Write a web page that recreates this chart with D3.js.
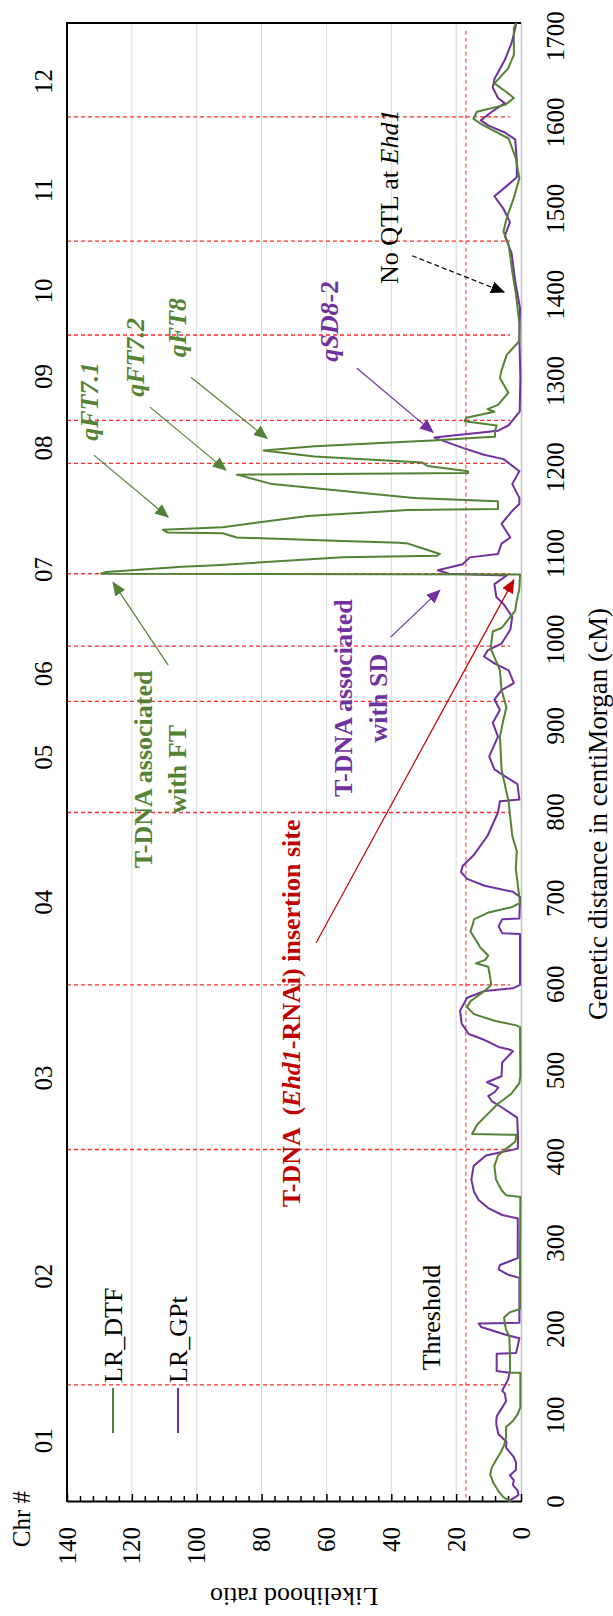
<!DOCTYPE html>
<html>
<head>
<meta charset="utf-8">
<script src="https://cdn.jsdelivr.net/npm/d3@7"></script>
<style>
body { margin: 0; background: #fff; }
svg { display: block; }
text { font-family: "Liberation Serif", "Times New Roman", serif; fill: #000; }
</style>
</head>
<body>
<svg id="chart" width="613" height="1616"></svg>
<script>
'use strict';

// chromosomes
const chrNames = ['01', '02', '03', '04', '05', '06', '07', '08', '09', '10', '11', '12'];
const chrLabelCM = [71, 262, 492, 696, 864, 961, 1082, 1223, 1306, 1405, 1522, 1648];
const chrBoundaryCM = [136, 409, 600, 800, 929, 993, 1077, 1205, 1255, 1354, 1463, 1607];
const thresholdLR = 17;

// axis ticks
const cmTicks = d3.range(0, 1701, 100);
const lrTicks = d3.range(0, 141, 20);
const lrMinorTicks = d3.range(0, 141, 4).filter(d => d % 20 !== 0);

// LR_DTF (days to flowering)
const dtfCM = [0, 6, 13, 22, 32, 40, 50, 58, 66, 75, 87, 94, 102, 110, 150, 150, 172, 192, 200, 207, 214, 220, 224, 300, 354,
    356, 362, 374, 390, 402, 410, 418, 426, 427, 438, 450, 462, 474, 486, 494, 551, 553, 558, 566, 574, 581, 593, 600,
    611, 621, 625, 629, 634, 643, 649, 662, 671, 676, 684, 690, 695, 735, 755, 773, 812, 850, 888, 908, 922, 942, 965,
    990, 996, 1010, 1014, 1034, 1042, 1060, 1076, 1077, 1079, 1085, 1087, 1096, 1098, 1100, 1106, 1112, 1113, 1115,
    1119, 1124, 1125, 1128, 1131, 1144, 1151, 1152, 1161, 1165, 1181, 1192, 1194, 1196, 1202, 1206, 1213, 1220, 1225,
    1232, 1235, 1236, 1243, 1249, 1254, 1258, 1265, 1268, 1273, 1287, 1304, 1313, 1331, 1347, 1366, 1400, 1428, 1459,
    1474, 1490, 1513, 1536, 1559, 1582, 1598, 1605, 1613, 1621, 1629, 1636, 1646, 1663, 1679, 1710, 1716];
const dtfLR = [3.2, 5.5, 7, 8.5, 9.5, 9, 7.5, 6.2, 5.2, 4.6, 4.6, 2.5, 1, 0.2, 0.2, 3.4, 3.4, 3.6, 4.6, 5, 5.2, 3.5, 0.3, 0.3, 0.2,
    4.6, 6, 7.7, 8.2, 7.1, 4.5, 1.8, 1.3, 15.1, 13.5, 10.3, 7.1, 2.9, 0.5, 0.2, 0.3, 1.4, 7.9, 14.5, 16.6, 15.6, 11.2, 9.2,
    9.6, 10.1, 13.9, 11, 10.1, 12.5, 13.4, 15.6, 14.8, 14.5, 10, 3, 0.3, 1.6, 1.3, 2.7, 3.8, 6, 6.5, 5.4, 4.5, 6, 6.5,
    9.3, 9.2, 8.7, 6, 1.8, 1.5, 0.5, 0.3, 129.5, 127.9, 104.5, 94, 55, 26, 25, 30, 34.8, 37.5, 55,
    87.6, 92, 109, 110.4, 92, 65.8, 34.8, 7.1, 7.1, 33, 76.7, 87.6, 16.3, 16.3, 28.8, 30.5, 63.7, 79.4, 63.7,
    26, 12.5, 8, 8, 7.5, 17.4, 16.9, 8.2, 10.3, 7.1, 3.9, 6.5, 6, 4.4, 0.5, 0.5, 1.5, 2.7, 3.8,
    5.4, 4.4, 2.2, 0.5, 1.6, 3.8, 12, 14.7, 13.6, 4.9, 2.2, 4.5, 8.2, 4, 2.2, 2.2, 1.5];

// LR_GPt (grain production)
const gptCM = [0, 2, 8, 13, 20, 25, 31, 37, 45, 52, 63, 70, 79, 90, 96, 100, 106, 117, 126, 129, 142, 150, 152, 172, 173,
    190, 194, 203, 207, 208, 260, 264, 270, 275, 283, 329, 333, 341, 350, 360, 374, 390, 402, 410, 423, 446, 458, 465,
    471, 476, 481, 487, 494, 510, 523, 525, 528, 536, 543, 555, 570, 585, 593, 596, 600, 659, 660, 668, 676, 677, 702,
    708, 715, 723, 731, 738, 750, 773, 800, 813, 815, 833, 842, 850, 865, 888, 904, 919, 931, 942, 950, 965, 973, 981,
    988, 996, 1012, 1027, 1042, 1050, 1065, 1075, 1077, 1081, 1083, 1088, 1096, 1100, 1112, 1119, 1135, 1150, 1158,
    1165, 1181, 1196, 1210, 1215, 1223, 1235, 1243, 1249, 1265, 1305, 1353, 1385, 1417, 1449, 1469, 1485, 1501, 1515,
    1525, 1537, 1557, 1581, 1589, 1597, 1603, 1613, 1623, 1629, 1641, 1651, 1673, 1693, 1709, 1716];
const gptLR = [3.2, 3.4, 0.8, 1, 2.5, 2.2, 3.4, 1.6, 1.5, 2.2, 4.6, 4.5, 7, 7.6, 7.6, 7.4, 6.4, 4.6, 5, 5.8, 4, 3.5, 7.5, 7.5, 1.5,
    0.5, 4.7, 12.3, 13, 0.5, 0.5, 4.2, 6.9, 6.5, 1, 1, 5.8, 10.1, 13, 14.5, 15.3, 14.6, 10.8, 1, 0.9, 1.2, 6, 9,
    10.1, 8, 7, 10.5, 6, 5.8, 2.5, 3.6, 6.9, 11.2, 16.1, 18.3, 18.8, 16.6, 11.2, 2.5, 0.3, 0.3, 5.8, 6.9, 5.8, 0.5, 0.3,
    2.5, 11.2, 16.6, 18.5, 18, 14.7, 10.3, 7.1, 6.5, 0.5, 1.1, 4.9, 8.2, 9.8, 7.1, 8.7, 6.5, 8.2, 6, 2.2, 3.8, 8.2, 11.4,
    10.3, 6, 3.3, 2.7, 5.4, 7.6, 8.2, 4.4, 22.3, 25.6, 23.4, 18, 15.8, 7.1, 6, 3.3, 6, 2.7, 0.5,
    0.5, 2.7, 0.5, 5.4, 11.4, 18, 26.7, 7.1, 3.9, 0.4, 0.2, 0.5, 0.3, 1.8, 2.9, 5, 3.4, 5.5, 8.2,
    5, 1.3, 1.3, 1.8, 5, 10, 12.4, 9, 5, 7.1, 8.7, 8.2, 5, 2.9, 1.8, 1.5];

const GREEN = '#548235';
const PURPLE = '#7030A0';
const DARKRED = '#C00000';

// chart is drawn lying on its side: build it in a 1616 x 613 frame and turn it
const frame = { width: 1616, height: 613 };
const plot = { left: 114, right: 1593, top: 67, bottom: 521 };

const x = d3.scaleLinear().domain([0, 1716]).range([plot.left, plot.right]);
const y = d3.scaleLinear().domain([0, 140]).range([plot.bottom, plot.top]);

const svg = d3.select('#chart');
svg.append('rect').attr('width', 613).attr('height', 1616).attr('fill', '#fff');

const defs = svg.append('defs');
function marker(id, color) {
    defs.append('marker')
        .attr('id', id)
        .attr('markerUnits', 'userSpaceOnUse')
        .attr('markerWidth', 14).attr('markerHeight', 12)
        .attr('refX', 13).attr('refY', 6)
        .attr('orient', 'auto')
        .append('path')
        .attr('d', 'M0,0 L14,6 L0,12 Z')
        .attr('fill', color);
}
marker('head-green', GREEN);
marker('head-purple', PURPLE);
marker('head-red', DARKRED);
marker('head-black', '#000');

const g = svg.append('g').attr('transform', 'translate(0,' + frame.width + ') rotate(-90)');

// gridlines
g.append('g').selectAll('line')
    .data(lrTicks.filter(d => d > 0 && d < 140))
    .enter().append('line')
    .attr('x1', plot.left).attr('x2', plot.right)
    .attr('y1', d => y(d)).attr('y2', d => y(d))
    .attr('stroke', '#d9d9d9').attr('stroke-width', 1);

// chromosome boundaries
g.append('g').selectAll('line')
    .data(chrBoundaryCM)
    .enter().append('line')
    .attr('x1', d => x(d)).attr('x2', d => x(d))
    .attr('y1', y(140)).attr('y2', y(3.4))
    .attr('stroke', '#ff2a2a').attr('stroke-width', 1.3)
    .attr('stroke-dasharray', '4,3');

// threshold
g.append('line')
    .attr('x1', x(5)).attr('x2', x(1710))
    .attr('y1', y(thresholdLR)).attr('y2', y(thresholdLR))
    .attr('stroke', '#ff5a5a').attr('stroke-width', 1.3)
    .attr('stroke-dasharray', '4,3');

// cM axis (gray line, labels only)
const xAxis = g.append('g')
    .attr('transform', 'translate(0,' + plot.bottom + ')')
    .call(d3.axisBottom(x).tickValues(cmTicks).tickSize(0).tickPadding(25).tickFormat(d3.format('d')));
xAxis.select('.domain').attr('stroke', '#bfbfbf').attr('stroke-width', 1.5);
xAxis.selectAll('text').style('font-size', '25px').attr('font-family', null);

// LR axis with inside ticks
const yAxis = g.append('g')
    .attr('transform', 'translate(' + plot.left + ',0)')
    .call(d3.axisLeft(y).tickValues(lrTicks).tickSizeInner(-8).tickSizeOuter(0).tickPadding(25));
yAxis.select('.domain').attr('stroke', '#000').attr('stroke-width', 2);
yAxis.selectAll('.tick line').attr('stroke-width', 1.5);
yAxis.selectAll('text').style('font-size', '25px').attr('font-family', null);

g.append('g')
    .attr('transform', 'translate(' + plot.left + ',0)')
    .call(d3.axisLeft(y).tickValues(lrMinorTicks).tickSizeInner(-6).tickSizeOuter(0).tickFormat(''))
    .call(a => a.select('.domain').remove())
    .selectAll('.tick line').attr('stroke-width', 1.5);

// frame on the other two sides
g.append('path')
    .attr('d', 'M' + plot.left + ',' + plot.top + ' H' + plot.right + ' V' + plot.bottom)
    .attr('fill', 'none').attr('stroke', '#000').attr('stroke-width', 2);

// series
const line = d3.line().x(d => x(d[0])).y(d => y(d[1]));
const series = [
    { name: 'LR_DTF', cm: dtfCM, lr: dtfLR, color: GREEN },
    { name: 'LR_GPt', cm: gptCM, lr: gptLR, color: PURPLE }
];
series.slice().reverse().forEach(s => {
    g.append('path')
        .datum(s.cm.map((c, i) => [c, s.lr[i]]))
        .attr('d', line)
        .attr('fill', 'none')
        .attr('stroke', s.color)
        .attr('stroke-width', 2)
        .attr('stroke-linejoin', 'round');
});

// legend
series.forEach((s, i) => {
    const ly = 113 + i * 65;
    g.append('line')
        .attr('x1', 183).attr('x2', 228)
        .attr('y1', ly).attr('y2', ly)
        .attr('stroke', s.color).attr('stroke-width', 2);
    g.append('text')
        .attr('x', 233).attr('y', ly).attr('dy', '0.35em')
        .style('font-size', '26px')
        .text(s.name);
});

// chromosome numbers
g.append('g').selectAll('text')
    .data(chrNames)
    .enter().append('text')
    .attr('x', (d, i) => x(chrLabelCM[i]))
    .attr('y', 43).attr('dy', '0.35em')
    .attr('text-anchor', 'middle')
    .style('font-size', '25px')
    .text(d => d);

g.append('text')
    .attr('x', 97).attr('y', 21).attr('dy', '0.35em')
    .attr('text-anchor', 'middle')
    .style('font-size', '25px')
    .text('Chr #');

// axis titles
g.append('text')
    .attr('x', 802).attr('y', 598).attr('dy', '0.35em')
    .attr('text-anchor', 'middle')
    .style('font-size', '27px')
    .text('Genetic distance in centiMorgan (cM)');

g.append('text')
    .attr('transform', 'translate(19,' + ((plot.top + plot.bottom) / 2) + ') rotate(-90)')
    .attr('dy', '0.35em')
    .attr('text-anchor', 'middle')
    .style('font-size', '26px')
    .text('Likelihood ratio');

// annotations
function label(cm, lr, parts, opts) {
    const t = g.append('text')
        .attr('x', x(cm)).attr('y', y(lr)).attr('dy', '0.35em')
        .attr('text-anchor', 'middle')
        .style('font-size', (opts.size || 26) + 'px')
        .style('font-weight', opts.bold ? 'bold' : 'normal')
        .style('fill', opts.color || '#000')
        .style('white-space', 'pre');
    parts.forEach(p => {
        t.append('tspan')
            .style('font-style', p.italic ? 'italic' : 'normal')
            .text(p.t);
    });
}

label(214, 27.7, [{ t: 'Threshold' }], {});
label(567, 70.9, [{ t: 'T-DNA  (' }, { t: 'Ehd1', italic: true }, { t: '-RNAi) insertion site' }], { bold: true, color: DARKRED });
label(850, 116.6, [{ t: 'T-DNA associated' }], { bold: true, color: GREEN });
label(850, 106, [{ t: 'with FT' }], { bold: true, color: GREEN });
label(932.7, 54.9, [{ t: 'T-DNA associated' }], { bold: true, color: PURPLE });
label(932.7, 44.1, [{ t: 'with SD' }], { bold: true, color: PURPLE });
label(1277, 133.4, [{ t: 'qFT7.1', italic: true }], { bold: true, color: GREEN });
label(1328, 119.2, [{ t: 'qFT7.2', italic: true }], { bold: true, color: GREEN });
label(1362.5, 106, [{ t: 'qFT8', italic: true }], { bold: true, color: GREEN });
label(1370, 59.2, [{ t: 'qSD8', italic: true }, { t: '-2' }], { bold: true, color: PURPLE });
label(1514.3, 40.7, [{ t: 'No QTL at ' }, { t: 'Ehd1', italic: true }], {});

// arrows: [LR, cM] from -> to
const arrows = [
    { from: [63.2, 648.5], to: [2.2, 1070], color: DARKRED, head: 'head-red', width: 1.2 },
    { from: [108.8, 971], to: [125.8, 1067], color: GREEN, head: 'head-green', width: 1.2 },
    { from: [40.2, 1003.5], to: [25, 1058], color: PURPLE, head: 'head-purple', width: 1.2 },
    { from: [131.7, 1214.6], to: [108.8, 1142.6], color: GREEN, head: 'head-green', width: 1.2 },
    { from: [114.4, 1270.3], to: [91, 1197.2], color: GREEN, head: 'head-green', width: 1.2 },
    { from: [101.8, 1305], to: [78.3, 1234], color: GREEN, head: 'head-green', width: 1.2 },
    { from: [50.6, 1315.5], to: [27.1, 1241], color: PURPLE, head: 'head-purple', width: 1.2 },
    { from: [33.6, 1446], to: [5.2, 1403.7], color: '#000', head: 'head-black', width: 1.2, dash: '5,3' }
];
g.append('g').selectAll('line')
    .data(arrows)
    .enter().append('line')
    .attr('x1', d => x(d.from[1])).attr('y1', d => y(d.from[0]))
    .attr('x2', d => x(d.to[1])).attr('y2', d => y(d.to[0]))
    .attr('stroke', d => d.color)
    .attr('stroke-width', d => d.width)
    .attr('stroke-dasharray', d => d.dash || null)
    .attr('marker-end', d => 'url(#' + d.head + ')');
</script>
</body>
</html>
